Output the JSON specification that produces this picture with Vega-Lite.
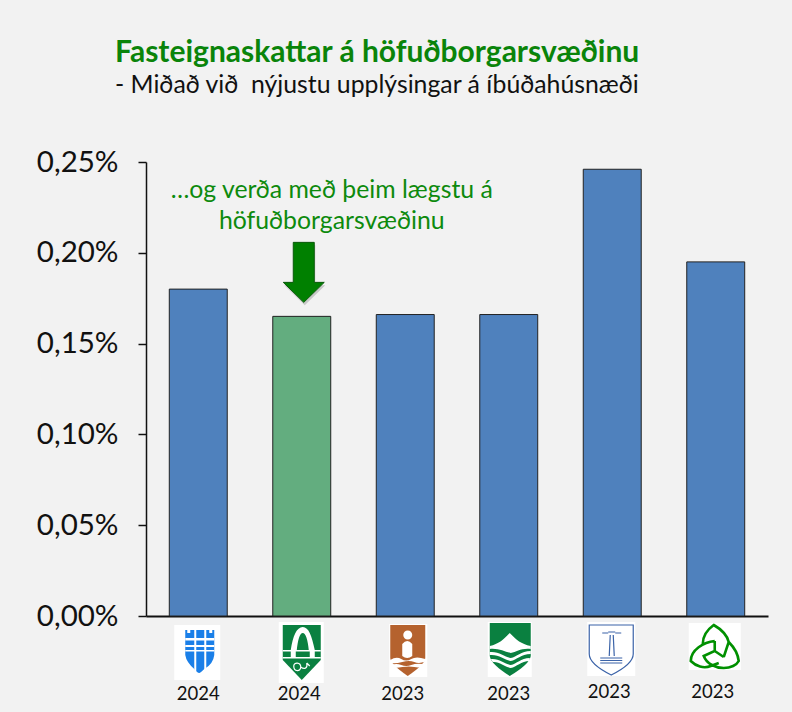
{
"$schema":"https://vega.github.io/schema/vega-lite/v6.json",
"width":622,"height":454,
"autosize":"none",
"padding":{"left":146,"top":162,"right":24,"bottom":96},
"background":"#f2f2f2",
"config":{"view":{"stroke":null},"font":"Lato"},
"title":{"text":"Fasteignaskattar á höfuðborgarsvæðinu","subtitle":"- Miðað við\u00a0 nýjustu upplýsingar á íbúðahúsnæði","anchor":"start","frame":"group","dx":-31,"offset":49,"font":"Lato","fontSize":30,"fontWeight":"bold","color":"#0a840a","subtitleFont":"Lato","subtitleFontSize":24.8,"subtitleColor":"#111111","subtitlePadding":5},
"data":{"values":[
{"logo":"A","year":"2024","rate":0.18},
{"logo":"B","year":"2024","rate":0.165},
{"logo":"C","year":"2023","rate":0.166},
{"logo":"D","year":"2023","rate":0.166},
{"logo":"E","year":"2023","rate":0.246},
{"logo":"F","year":"2023","rate":0.195}
]},
"encoding":{"x":{"field":"logo","type":"nominal","scale":{"paddingInner":0.44,"paddingOuter":0.225},"axis":{"title":null,"labels":false,"ticks":false,"domainColor":"#111111","domainWidth":2}}},
"layer":[
{"mark":{"type":"bar","stroke":"#222222","strokeWidth":1},
 "encoding":{"y":{"field":"rate","type":"quantitative","scale":{"domain":[0,0.25],"nice":false},"axis":{"title":null,"grid":false,"values":[0,0.05,0.1,0.15,0.2,0.25],"labelExpr":"replace(format(datum.value,'.2f'),'.',',')+'%'","labelFontSize":29.5,"labelFont":"Lato","labelColor":"#111111","labelPadding":20,"tickSize":8,"tickWidth":1.5,"tickColor":"#111111","domainColor":"#111111","domainWidth":1.5}},
 "fill":{"field":"logo","type":"nominal","legend":null,"scale":{"domain":["A","B","C","D","E","F"],"range":["#4f81bd","#63ad7f","#4f81bd","#4f81bd","#4f81bd","#4f81bd"]}}}},
{"mark":{"type":"point","filled":true,"opacity":1,"size":4,"strokeWidth":0,"yOffset":34,"fill":"#ffffff"},
 "encoding":{"y":{"datum":0},"shape":{"field":"logo","type":"nominal","legend":null,"scale":{"domain":["A","B","C","D","E","F"],"range":[
 "M-24 -25H22V30H-24Z","M-23 -28H22V33H-23Z","M-16 -26H22V27H-16Z","M-21 -28H23V27H-21Z","M-25 -28H23V26H-25Z","M-27 -27H25V20H-27Z"]}}}},
{"mark":{"type":"point","filled":true,"opacity":1,"size":4,"strokeWidth":0,"yOffset":34},
 "transform":[{"filter":{"field":"logo","oneOf":["A","B","C","D"]}}],
 "encoding":{"y":{"datum":0},"shape":{"field":"logo","type":"nominal","legend":null,"scale":{"domain":["A","B","C","D"],"range":[
 "M-13 -20H16V5Q15 14 6 19Q2 23 1 23Q-1 23 -4 19Q-12 12 -13 5Z",
 "M-19 -25H19V10L0 30L-19 10Z",
 "M-15 -25H20V8Q20 14 2.5 26Q-15 14 -15 8Z",
 "M-19 -27H22V6Q21 14 1 26Q-18 14 -19 6Z"]}},
 "fill":{"field":"logo","type":"nominal","legend":null,"scale":{"domain":["A","B","C","D"],"range":["#1a7fe8","#0a8040","#b5622e","#0a8040"]}}}},
{"mark":{"type":"point","filled":true,"opacity":1,"size":4,"strokeWidth":0,"yOffset":34,"fill":"#ffffff"},
 "transform":[{"filter":{"field":"logo","oneOf":["A","B","C","D"]}}],
 "encoding":{"y":{"datum":0},"shape":{"field":"logo","type":"nominal","legend":null,"scale":{"domain":["A","B","C","D"],"range":[
 "M-4 -20H-2V22H-4ZM6 -20H8V20H6ZM-13 -12H16V-9.5H-13ZM-13 -5H16V-3H-13ZM-13 0H16V1.5H-13ZM-11 -20H-8V-17H-11ZM11 -20H14V-17H11Z",
 "M-11 0C-9 -14 -5 -23 1 -23C7 -23 10 -14 13 0H7C6 -10 4 -17 1 -17C-2 -17 -4 -10 -5 0ZM-19 0H19V1.5H-19ZM-19 7H19V8.5H-19ZM-11 0H-6V7H-11ZM8 0H13V7H8Z",
 "M-2 -15A4.5 4.5 0 1 1 7 -15A4.5 4.5 0 1 1 -2 -15ZM-3 -6Q2 -12 7 -6V6Q2 10 -3 6ZM-15 10Q-9 6 -4 9T6 9T20 9V11.5Q14 14 9 12T-3 12T-15 13ZM-14 15Q-9 13 -4 15T6 15T18 14V16.5Q14 18 9 17T-3 17T-12 18Z",
 "M-19 -4C-10 -6 -6 -10 1 -17C8 -10 12 -6 22 -4V-1C12 -2 8 2 2 3C-4 2 -10 -2 -19 -1ZM-19 2C-10 1 -4 7 2 8C8 7 12 1 22 1V4C12 4 8 10 2 11C-4 10 -10 4 -19 5ZM-18 9C-10 8 -4 14 2 15C8 14 12 8 21 8V11C12 11 8 17 2 18C-4 17 -10 11 -16 12Z"]}}}},
{"mark":{"type":"point","filled":false,"opacity":1,"size":4,"strokeWidth":1.2,"yOffset":34},
 "transform":[{"filter":{"field":"logo","oneOf":["B","E"]}}],
 "encoding":{"y":{"datum":0},"shape":{"field":"logo","type":"nominal","legend":null,"scale":{"domain":["B","E"],"range":[
 "M-8 16C-8 12 -1 12 -1 17C-1 22 -8 22 -8 16ZM-1 17C3 20 6 18 5 13M5 13L8 16",
 "M-23 -25H21V4Q21 14 -1 25Q-23 14 -23 4ZM-2 -15L-3 6M1 -15L2 6M-4 -18H3M-10 -17H-4M3 -17H9M-12 8H10M-12 10.5H10M-12 13H10"]}},
 "stroke":{"field":"logo","type":"nominal","legend":null,"scale":{"domain":["B","E"],"range":["#ffffff","#3b63a8"]}}}},
{"mark":{"type":"point","filled":false,"opacity":1,"size":4,"strokeWidth":2.6,"stroke":"#009000","yOffset":34,"shape":"M8 7L13 -8C11 -16 5 -21 -2 -25C-9 -20 -13 -14 -13 -6M-1 -9C-12 -8 -25 0 -25 11C-20 16 -12 19 -5 16L3 13M-1 -9L-1 1L-12 6C-9 14 0 18 8 18C15 18 21 15 23 11C22 2 17 -4 13 -8M-1 1L8 7"},
 "transform":[{"filter":{"field":"logo","equal":"F"}}],
 "encoding":{"y":{"datum":0}}},
{"mark":{"type":"text","font":"Lato","fontSize":18.5,"color":"#111111","baseline":"middle","dy":78},
 "transform":[{"filter":{"field":"logo","oneOf":["A","D"]}}],
 "encoding":{"y":{"datum":0},"text":{"field":"year","type":"nominal"}}},
{"mark":{"type":"text","font":"Lato","fontSize":18.5,"color":"#111111","baseline":"middle","dy":78,"dx":-2.5},
 "transform":[{"filter":{"field":"logo","oneOf":["B","C"]}}],
 "encoding":{"y":{"datum":0},"text":{"field":"year","type":"nominal"}}},
{"mark":{"type":"text","font":"Lato","fontSize":18.5,"color":"#111111","baseline":"middle","dy":76,"dx":-3},
 "transform":[{"filter":{"field":"logo","oneOf":["E","F"]}}],
 "encoding":{"y":{"datum":0},"text":{"field":"year","type":"nominal"}}},
{"mark":{"type":"point","filled":true,"opacity":0.3,"size":4,"strokeWidth":0,"fill":"#666666","xOffset":1,"yOffset":3,"shape":"M-8.5 -74H12.5V-34H22.5L2 -14L-18.5 -34H-8.5Z"},
 "transform":[{"filter":{"field":"logo","equal":"B"}}],
 "encoding":{"y":{"field":"rate","type":"quantitative"}}},
{"mark":{"type":"point","filled":true,"opacity":1,"size":4,"fill":"#008000","stroke":"#0a5a0a","strokeWidth":1,"shape":"M-8.5 -74H12.5V-34H22.5L2 -14L-18.5 -34H-8.5Z"},
 "transform":[{"filter":{"field":"logo","equal":"B"}}],
 "encoding":{"y":{"field":"rate","type":"quantitative"}}},
{"data":{"values":[{"logo":"B","note":"…og verða með þeim lægstu á","pos":0.234},{"logo":"B","note":"höfuðborgarsvæðinu","pos":0.217}]},
 "mark":{"type":"text","font":"Lato","fontSize":24.8,"color":"#0d8a0d","baseline":"middle","dx":30},
 "encoding":{"y":{"field":"pos","type":"quantitative"},"text":{"field":"note","type":"nominal"}}}
],
"resolve":{"scale":{"shape":"independent","fill":"independent","stroke":"independent"}}
}
